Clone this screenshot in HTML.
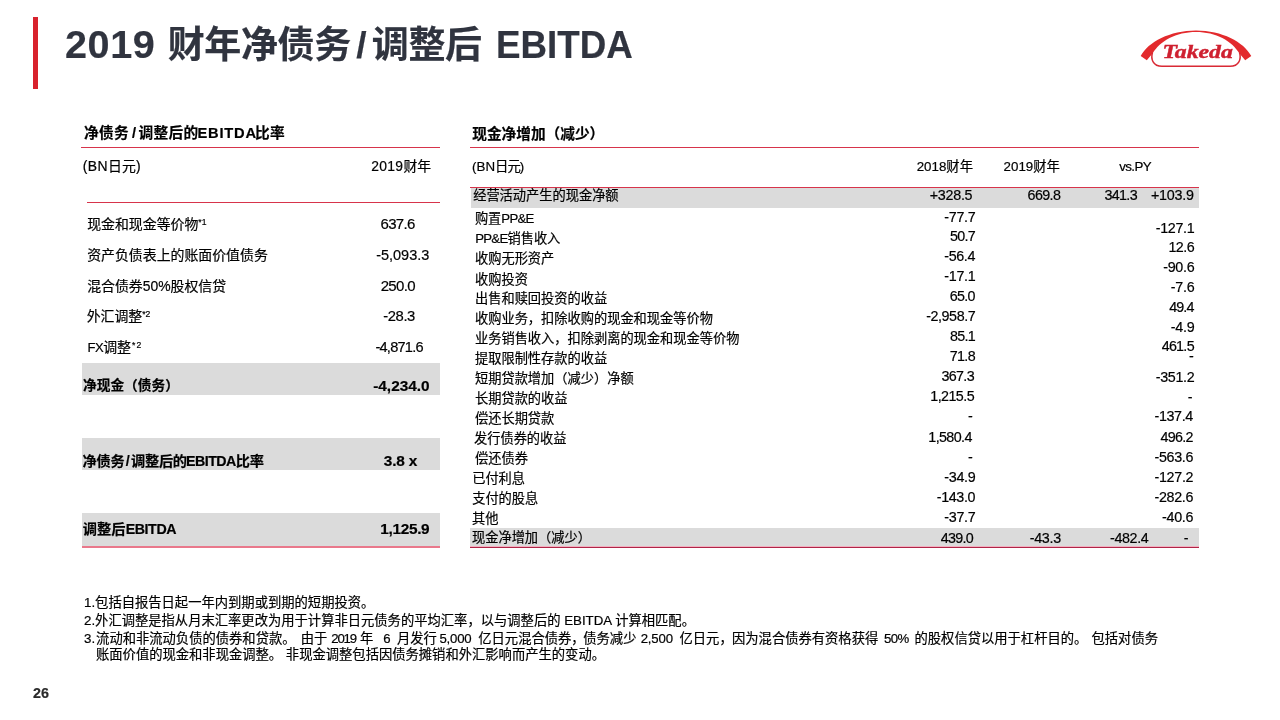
<!DOCTYPE html>
<html lang="zh-CN">
<head>
<meta charset="utf-8">
<title>2019 财年净债务/调整后 EBITDA</title>
<style>
html,body{margin:0;padding:0}
body{width:1280px;height:720px;position:relative;overflow:hidden;background:#fff;color:#000;font-family:"Liberation Sans","Noto Sans CJK SC",sans-serif}
#slide{position:absolute;left:0;top:0;width:1280px;height:720px;transform:translateZ(0)}
.t{position:absolute;white-space:nowrap;line-height:2;height:2em;-webkit-text-stroke:0.2px}
.b{font-weight:bold}
.t span{line-height:0}
.s{position:absolute}
</style>
</head>
<body>
<div id="slide">
<div class="s" style="left:32.5px;top:17px;width:5.5px;height:72px;background:#d8222d"></div>
<div class="s" style="left:80.5px;top:147.2px;width:359px;height:1.3px;background:#d7344b"></div>
<div class="s" style="left:87px;top:202.2px;width:352.5px;height:1.3px;background:#d7344b"></div>
<div class="s" style="left:81.5px;top:363.2px;width:358px;height:32.3px;background:#dbdbdb"></div>
<div class="s" style="left:81.5px;top:438.2px;width:358px;height:32.3px;background:#dbdbdb"></div>
<div class="s" style="left:81.5px;top:512.5px;width:358px;height:33.2px;background:#dbdbdb"></div>
<div class="s" style="left:81.5px;top:545.7px;width:358px;height:2.2px;background:#e9788b"></div>
<div class="s" style="left:469.5px;top:146.8px;width:729px;height:1.3px;background:#d7344b"></div>
<div class="s" style="left:470.5px;top:187.5px;width:728px;height:20.2px;background:#dbdbdb"></div>
<div class="s" style="left:469.5px;top:186.8px;width:729px;height:1.2px;background:#d7344b"></div>
<div class="s" style="left:470px;top:528px;width:728.5px;height:18.3px;background:#dbdbdb"></div>
<div class="s" style="left:469.5px;top:545.6px;width:729px;height:1.1px;background:#f2b0c0"></div>
<div class="s" style="left:469.5px;top:546.7px;width:729px;height:1.3px;background:#b02547"></div>
<svg class="s" style="left:1136px;top:26px;width:120px;height:48px" viewBox="0 0 120 48" role="img"><title>Takeda logo</title>
<path fill="#e32a2d" d="M4.7 30C12 16 34 4.5 60 4.5S108 16 115.3 30l-6.1 4.2-5.9-7C96 15 80 5.9 60 5.9S24 15 16.7 27.2l-5.9 7z"/>
<path fill="none" stroke="#d92a35" stroke-width="1.5" d="M16.5 26.5C14.5 33 17 40.3 26 40.3H94c9 0 11.5-7.3 9.5-13.8"/>
<text x="26.4" y="32.3" font-family="'Liberation Serif',serif" font-weight="bold" font-style="italic" font-size="18.5" fill="#cf2030" textLength="70.5" lengthAdjust="spacingAndGlyphs" stroke="#cf2030" stroke-width="0.4">Takeda</text>
</svg>

<div class="t b" style="left:65px;top:9.4px;font-size:37px;color:#30343f"><span style="letter-spacing:0.6px;font-size:1.07em">2019</span><span style="margin-left:1.9px"> </span><span style="letter-spacing:-0.01em">财年净债务</span><span style="display:inline-block;width:21px;text-align:center">/</span><span style="letter-spacing:-0.01em">调整后</span><span style="margin-left:4.2px"> </span><span style="font-size:1.073em;display:inline-block;transform:scaleX(0.926);transform-origin:0 50%">EBITDA</span></div>
<div class="t b" style="left:83.9px;top:119px;font-size:14.67px"><span style="letter-spacing:0.023em">净债务</span><span style="display:inline-block;width:8px;text-align:center;margin:0 0.4px 0 1.2px">/</span><span style="letter-spacing:0.023em">调整后的</span><span style="letter-spacing:0.8px;margin-left:-1px;margin-right:-1.9px">EBITDA</span><span style="letter-spacing:0.023em">比率</span></div>
<div class="t" style="left:82.8px;top:153.25px;font-size:13.9px"><span style="letter-spacing:0.45px">(BN</span><span>日元</span>)</div>
<div class="t" style="right:848.8px;top:153px;font-size:13.9px"><span style="letter-spacing:0.3px">2019</span><span>财年</span></div>
<div class="t" style="left:87.2px;top:210.84px;font-size:13.9px"><span>现金和现金等价物</span><span style="font-size:0.62em;position:relative;top:-3.6px">*1</span></div>
<div class="t" style="left:87.2px;top:241.84px;font-size:13.9px"><span>资产负债表上的账面价值债务</span></div>
<div class="t" style="left:87.2px;top:272.84px;font-size:13.9px"><span>混合债券</span>50%<span>股权信贷</span></div>
<div class="t" style="left:86.7px;top:302.84px;font-size:13.9px"><span>外汇调整</span><span style="font-size:0.62em;position:relative;top:-3.6px">*2</span></div>
<div class="t" style="left:86.5px;top:333.64px;font-size:13.9px"><span style="letter-spacing:-0.5px;font-size:0.94em;margin-left:1px">FX</span><span>调整</span><span style="letter-spacing:1.2px;font-size:0.62em;position:relative;top:-3.6px;margin-left:1px">*2</span></div>
<div class="t" style="left:380.43px;top:209px;font-size:15px"><span style="letter-spacing:-0.63px">637.6</span></div>
<div class="t" style="left:376.26px;top:241px;font-size:14.5px"><span style="letter-spacing:-0.03px">-5,093.3</span></div>
<div class="t" style="left:380.63px;top:271px;font-size:15px"><span style="letter-spacing:-0.65px">250.0</span></div>
<div class="t" style="left:383.24px;top:302px;font-size:14.8px"><span style="letter-spacing:-0.41px">-28.3</span></div>
<div class="t" style="left:375.45px;top:333px;font-size:14.6px"><span style="letter-spacing:-0.77px">-4,871.6</span></div>
<div class="t b" style="left:83px;top:372.39px;font-size:13.7px"><span>净现金（债务）</span></div>
<div class="t b" style="left:373.2px;top:371px;font-size:15.4px">-4,234.0</div>
<div class="t b" style="left:82.5px;top:447.2px;font-size:14.2px"><span style="letter-spacing:-0.015em">净债务</span><span style="display:inline-block;width:6.6px;text-align:center;margin:0 -0.1px 0 0px">/</span><span style="letter-spacing:-0.015em">调整后的</span><span style="letter-spacing:-0.5px;margin-left:-0.8px">EBITDA</span><span style="letter-spacing:-0.015em">比率</span></div>
<div class="t b" style="left:383.75px;top:446px;font-size:15.4px"><span style="letter-spacing:-0.17px">3.8 x</span></div>
<div class="t b" style="left:82.8px;top:514.8px;font-size:14.2px"><span>调整后</span><span style="letter-spacing:-0.4px;margin-left:0.3px">EBITDA</span></div>
<div class="t b" style="left:380.33px;top:514px;font-size:15.4px"><span style="letter-spacing:-0.34px">1,125.9</span></div>
<div class="t b" style="left:472.3px;top:119.64px;font-size:14.67px"><span>现金净增加（减少）</span></div>
<div class="t" style="left:472.1px;top:154.1px;font-size:13.33px">(BN<span style="letter-spacing:-0.07em">日元</span>)</div>
<div class="t" style="right:307px;top:153.8px;font-size:13.33px">2018<span>财年</span></div>
<div class="t" style="right:220.1px;top:153.8px;font-size:13.33px">2019<span>财年</span></div>
<div class="t" style="right:129px;top:154.2px;font-size:13.33px"><span style="letter-spacing:-0.6px">vs.PY</span></div>
<div class="t" style="left:473.2px;top:182.61px;font-size:13.22px"><span>经营活动产生的现金净额</span></div>
<div class="t" style="left:474.9px;top:206.31px;font-size:13.22px"><span>购置</span><span style="letter-spacing:-0.75px">PP&amp;E</span></div>
<div class="t" style="left:475.2px;top:226.31px;font-size:13.22px"><span style="letter-spacing:-0.75px">PP&amp;E</span><span>销售收入</span></div>
<div class="t" style="left:475px;top:245.71px;font-size:13.22px"><span>收购无形资产</span></div>
<div class="t" style="left:475px;top:267.11px;font-size:13.22px"><span>收购投资</span></div>
<div class="t" style="left:475px;top:286.31px;font-size:13.22px"><span>出售和赎回投资的收益</span></div>
<div class="t" style="left:475px;top:306.31px;font-size:13.22px"><span>收购业务，扣除收购的现金和现金等价物</span></div>
<div class="t" style="left:475px;top:326.31px;font-size:13.22px"><span>业务销售收入，扣除剥离的现金和现金等价物</span></div>
<div class="t" style="left:475px;top:346.31px;font-size:13.22px"><span>提取限制性存款的收益</span></div>
<div class="t" style="left:475px;top:366.31px;font-size:13.22px"><span>短期贷款增加（减少）净额</span></div>
<div class="t" style="left:475px;top:386.31px;font-size:13.22px"><span>长期贷款的收益</span></div>
<div class="t" style="left:475px;top:406.31px;font-size:13.22px"><span>偿还长期贷款</span></div>
<div class="t" style="left:474px;top:426.31px;font-size:13.22px"><span>发行债券的收益</span></div>
<div class="t" style="left:475px;top:446.31px;font-size:13.22px"><span>偿还债券</span></div>
<div class="t" style="left:472.2px;top:466.31px;font-size:13.22px"><span>已付利息</span></div>
<div class="t" style="left:472.2px;top:486.31px;font-size:13.22px"><span>支付的股息</span></div>
<div class="t" style="left:472px;top:506.31px;font-size:13.22px"><span>其他</span></div>
<div class="t" style="left:472px;top:524.51px;font-size:13.22px"><span>现金净增加（减少）</span></div>
<div class="t" style="left:929.7px;top:181px;font-size:14.3px"><span style="letter-spacing:-0.25px">+328.5</span></div>
<div class="t" style="left:1027.55px;top:181px;font-size:14.3px"><span style="letter-spacing:-0.6px">669.8</span></div>
<div class="t" style="left:1104.43px;top:181px;font-size:14.3px"><span style="letter-spacing:-0.65px">341.3</span></div>
<div class="t" style="left:1151px;top:181px;font-size:14.3px"><span style="letter-spacing:-0.23px">+103.9</span></div>
<div class="t" style="left:944.29px;top:203px;font-size:14.3px"><span style="letter-spacing:-0.29px">-77.7</span></div>
<div class="t" style="left:949.95px;top:222px;font-size:14.3px"><span style="letter-spacing:-0.69px">50.7</span></div>
<div class="t" style="left:944.29px;top:242px;font-size:14.3px"><span style="letter-spacing:-0.37px">-56.4</span></div>
<div class="t" style="left:944.29px;top:262px;font-size:14.3px"><span style="letter-spacing:-0.3px">-17.1</span></div>
<div class="t" style="left:949.8px;top:282px;font-size:14.3px"><span style="letter-spacing:-0.69px">65.0</span></div>
<div class="t" style="left:926.16px;top:302px;font-size:14.3px"><span style="letter-spacing:-0.42px">-2,958.7</span></div>
<div class="t" style="left:949.9px;top:322px;font-size:14.3px"><span style="letter-spacing:-0.68px">85.1</span></div>
<div class="t" style="left:949.79px;top:342px;font-size:14.3px"><span style="letter-spacing:-0.67px">71.8</span></div>
<div class="t" style="left:941.43px;top:362px;font-size:14.3px"><span style="letter-spacing:-0.65px">367.3</span></div>
<div class="t" style="left:930.3px;top:382px;font-size:14.3px"><span style="letter-spacing:-0.57px">1,215.5</span></div>
<div class="t" style="left:968.06px;top:402px;font-size:14.3px">-</div>
<div class="t" style="left:928.3px;top:423px;font-size:14.3px"><span style="letter-spacing:-0.6px">1,580.4</span></div>
<div class="t" style="left:968.06px;top:443px;font-size:14.3px">-</div>
<div class="t" style="left:944.29px;top:463px;font-size:14.3px"><span style="letter-spacing:-0.3px">-34.9</span></div>
<div class="t" style="left:936.74px;top:483px;font-size:14.3px"><span style="letter-spacing:-0.35px">-143.0</span></div>
<div class="t" style="left:944.29px;top:503px;font-size:14.3px"><span style="letter-spacing:-0.29px">-37.7</span></div>
<div class="t" style="left:1155.74px;top:214px;font-size:14.3px"><span style="letter-spacing:-0.32px">-127.1</span></div>
<div class="t" style="left:1168.43px;top:233px;font-size:14.3px"><span style="letter-spacing:-0.55px">12.6</span></div>
<div class="t" style="left:1163.29px;top:253px;font-size:14.3px"><span style="letter-spacing:-0.31px">-90.6</span></div>
<div class="t" style="left:1170.83px;top:273px;font-size:14.3px"><span style="letter-spacing:-0.28px">-7.6</span></div>
<div class="t" style="left:1169.2px;top:293px;font-size:14.3px"><span style="letter-spacing:-0.87px">49.4</span></div>
<div class="t" style="left:1170.83px;top:313px;font-size:14.3px"><span style="letter-spacing:-0.27px">-4.9</span></div>
<div class="t" style="left:1161.65px;top:332px;font-size:14.3px"><span style="letter-spacing:-0.71px">461.5</span></div>
<div class="t" style="left:1188.96px;top:342px;font-size:14.3px">-</div>
<div class="t" style="left:1155.74px;top:363px;font-size:14.3px"><span style="letter-spacing:-0.31px">-351.2</span></div>
<div class="t" style="left:1187.76px;top:383px;font-size:14.3px">-</div>
<div class="t" style="left:1154.54px;top:402px;font-size:14.3px"><span style="letter-spacing:-0.37px">-137.4</span></div>
<div class="t" style="left:1160.45px;top:423px;font-size:14.3px"><span style="letter-spacing:-0.68px">496.2</span></div>
<div class="t" style="left:1154.54px;top:443px;font-size:14.3px"><span style="letter-spacing:-0.33px">-563.6</span></div>
<div class="t" style="left:1154.54px;top:463px;font-size:14.3px"><span style="letter-spacing:-0.31px">-127.2</span></div>
<div class="t" style="left:1154.54px;top:483px;font-size:14.3px"><span style="letter-spacing:-0.33px">-282.6</span></div>
<div class="t" style="left:1162.09px;top:503px;font-size:14.3px"><span style="letter-spacing:-0.31px">-40.6</span></div>
<div class="t" style="left:940.75px;top:524px;font-size:14.3px"><span style="letter-spacing:-0.72px">439.0</span></div>
<div class="t" style="left:1029.79px;top:524px;font-size:14.3px"><span style="letter-spacing:-0.31px">-43.3</span></div>
<div class="t" style="left:1110.04px;top:524px;font-size:14.3px"><span style="letter-spacing:-0.37px">-482.4</span></div>
<div class="t" style="left:1183.86px;top:524px;font-size:14.3px">-</div>
<div class="t" style="left:84px;top:590px;font-size:13.3px">1.<span>包括自报告日起一年内到期或到期的短期投资。</span></div>
<div class="t" style="left:84px;top:608px;font-size:13.3px">2.<span>外汇调整是指从月末汇率更改为用于计算非日元债务的平均汇率，以与调整后的</span> EBITDA <span>计算相匹配。</span></div>
<div class="t" style="left:84px;top:626px;font-size:13.3px">3.</div>
<div class="t" style="left:96.1px;top:626px;font-size:13.3px"><span>流动和非流动负债的债券和贷款。</span></div>
<div class="t" style="left:300.7px;top:626px;font-size:13.3px"><span>由于</span></div>
<div class="t" style="left:360px;top:626px;font-size:13.3px"><span>年</span></div>
<div class="t" style="left:397px;top:626px;font-size:13.3px"><span>月发行</span></div>
<div class="t" style="left:478.25px;top:626px;font-size:13.3px"><span>亿日元混合债券，</span></div>
<div class="t" style="left:583.25px;top:626px;font-size:13.3px"><span>债务减少</span></div>
<div class="t" style="left:679.5px;top:626px;font-size:13.3px"><span>亿日元，</span></div>
<div class="t" style="left:732px;top:626px;font-size:13.3px"><span>因为混合债券有资格获得</span></div>
<div class="t" style="left:914.5px;top:626px;font-size:13.3px"><span>的股权信贷以用于杠杆目的。</span></div>
<div class="t" style="left:1091.5px;top:626px;font-size:13.3px"><span>包括对债务</span></div>
<div class="t" style="left:331.34px;top:626px;font-size:13.2px"><span style="letter-spacing:-1.23px">2019</span></div>
<div class="t" style="left:383.23px;top:626px;font-size:13.2px">6</div>
<div class="t" style="left:439.47px;top:626px;font-size:13.2px"><span style="letter-spacing:-0.2px">5,000</span></div>
<div class="t" style="left:640.64px;top:626px;font-size:13.2px"><span style="letter-spacing:-0.16px">2,500</span></div>
<div class="t" style="left:883.97px;top:626px;font-size:13.2px"><span style="letter-spacing:-0.56px">50%</span></div>
<div class="t" style="left:96px;top:641.97px;font-size:13.3px"><span>账面价值的现金和非现金调整。</span> <span>非现金调整包括因债务摊销和外汇影响而产生的变动。</span></div>
<div class="t b" style="left:33px;top:679px;font-size:14.3px;color:#2a2a2a"><span style="letter-spacing:0.01px">26</span></div>
</div>
</body>
</html>
